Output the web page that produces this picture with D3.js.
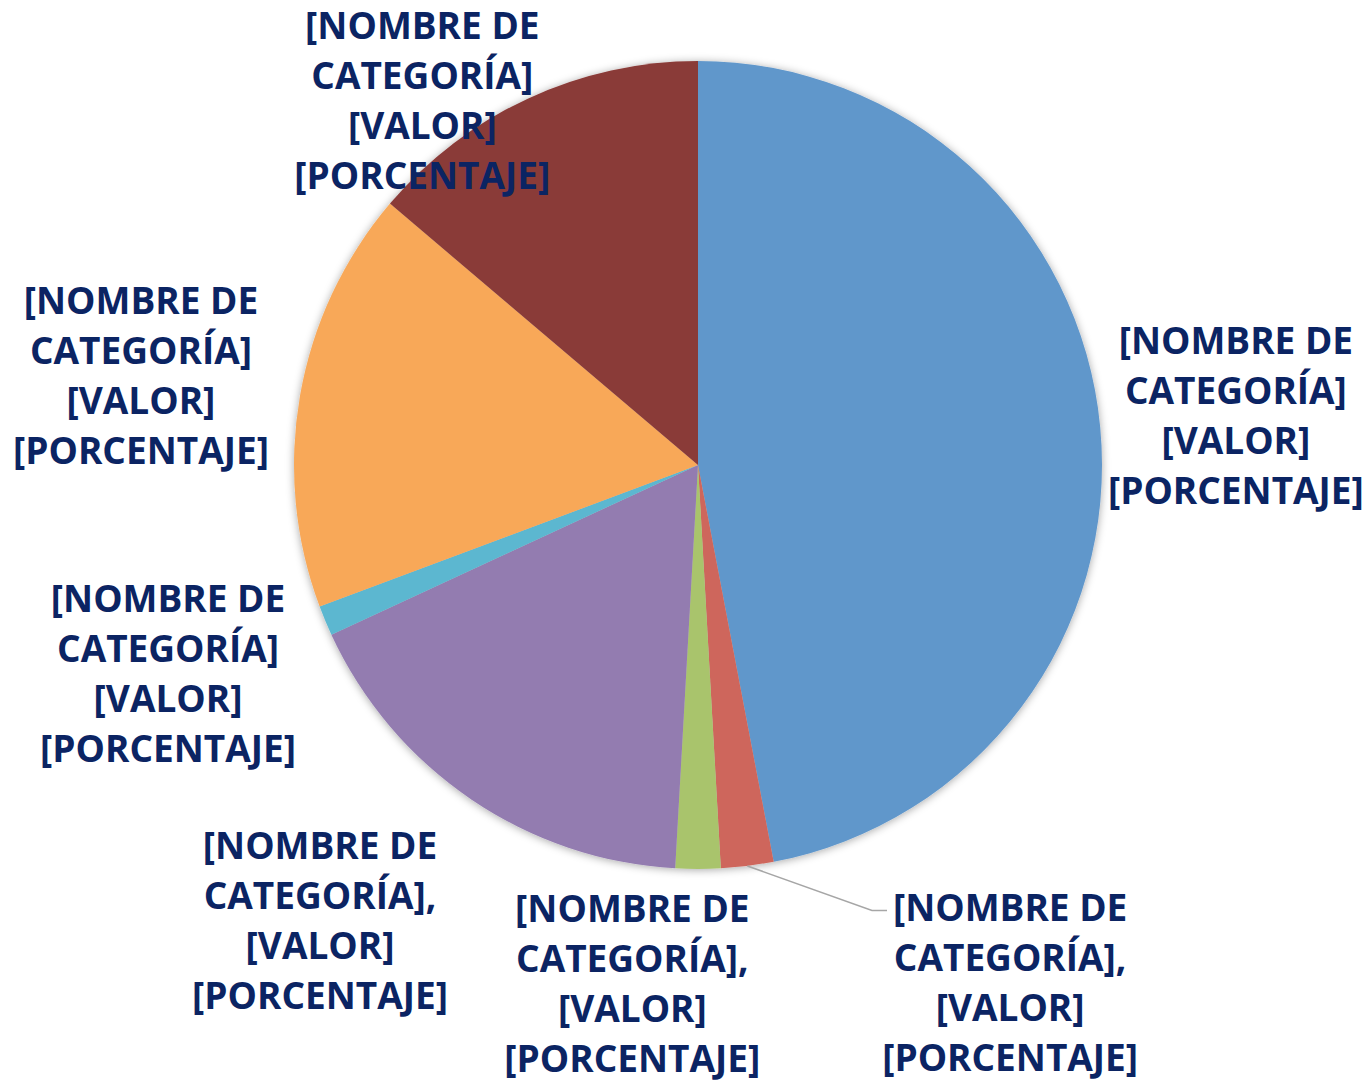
<!DOCTYPE html>
<html>
<head>
<meta charset="utf-8">
<script src="https://cdn.jsdelivr.net/npm/d3@7"></script>
<style>
  body { margin: 0; background: #fff; }
  svg text { font-family: "Open Sans", sans-serif; font-weight: 700; fill: #0b2463; }
</style>
</head>
<body>
<div id="chart"></div>
<script>
// slices, clockwise from 12 o'clock
const slices = ["azul", "rojo", "verde", "morado", "celeste", "naranja", "granate"];
const values = [47.0, 2.1, 1.8, 17.2, 1.2, 16.9, 13.8];
const colors = ["#6197CB", "#CE665B", "#A9C46C", "#937CB0", "#5BB7D0", "#F8A858", "#8A3B38"];
const labelText = [
    ["[NOMBRE DE", "CATEGORÍA]", "[VALOR]", "[PORCENTAJE]"],
    ["[NOMBRE DE", "CATEGORÍA],", "[VALOR]", "[PORCENTAJE]"],
    ["[NOMBRE DE", "CATEGORÍA],", "[VALOR]", "[PORCENTAJE]"],
    ["[NOMBRE DE", "CATEGORÍA],", "[VALOR]", "[PORCENTAJE]"],
    ["[NOMBRE DE", "CATEGORÍA]", "[VALOR]", "[PORCENTAJE]"],
    ["[NOMBRE DE", "CATEGORÍA]", "[VALOR]", "[PORCENTAJE]"],
    ["[NOMBRE DE", "CATEGORÍA]", "[VALOR]", "[PORCENTAJE]"]
];

// label placement (angle in degrees from top, distance from centre)
const labelPlace = [
    {a: 84.9, r: 540},
    {a: 149.0, r: 606},
    {a: 187.2, r: 524},
    {a: 219.6, r: 593},
    {a: 248.4, r: 570},
    {a: 279.0, r: 564},
    {a: 322.8, r: 456}
];

let width = 1365, height = 1081;
let cx = 698, cy = 465, radius = 404;
let lineH = 50;

let svg = d3.select("#chart")
    .append("svg")
        .attr("width", width)
        .attr("height", height);

let defs = svg.append("defs");
let shadow = defs.append("filter")
    .attr("id", "shadow")
    .attr("x", "-10%").attr("y", "-10%")
    .attr("width", "120%").attr("height", "120%");
shadow.append("feDropShadow")
    .attr("dx", 0).attr("dy", 1)
    .attr("stdDeviation", 4)
    .attr("flood-color", "#000")
    .attr("flood-opacity", 0.35);

let pie = d3.pie().sort(null).value(d => d);
let arcs = pie(values);
let arc = d3.arc().innerRadius(0).outerRadius(radius);

let g = svg.append("g")
    .attr("transform", "translate(" + cx + "," + cy + ")");

g.append("g")
    .attr("filter", "url(#shadow)")
    .selectAll("path")
    .data(arcs)
    .enter().append("path")
        .attr("d", arc)
        .attr("fill", (d, i) => colors[i]);

// leader line for the small red slice
let redArc = arcs[1];
let mid = (redArc.startAngle + redArc.endAngle) / 2;
let p0 = [radius * Math.sin(mid), -radius * Math.cos(mid)];
let lp = labelPlace[1];
let la = lp.a * Math.PI / 180;
let lx = lp.r * Math.sin(la), ly = -lp.r * Math.cos(la);
g.append("polyline")
    .attr("points", [p0, [174, ly - 74], [189, ly - 74]].map(p => p.join(",")).join(" "))
    .attr("fill", "none")
    .attr("stroke", "#A6A6A6")
    .attr("stroke-width", 1.5);

let labels = g.selectAll(".label")
    .data(arcs)
    .enter().append("text")
    .attr("class", "label")
    .attr("text-anchor", "middle")
    .attr("font-size", 37)
    .attr("transform", (d, i) => {
        let a = labelPlace[i].a * Math.PI / 180;
        return "translate(" + (labelPlace[i].r * Math.sin(a)) + "," + (-labelPlace[i].r * Math.cos(a)) + ")";
    });

labels.selectAll("tspan")
    .data((d, i) => labelText[i])
    .enter().append("tspan")
        .attr("x", 0)
        .attr("y", (t, j) => (j - 1.5) * lineH + 12)
        .text(t => t);
</script>
</body>
</html>
